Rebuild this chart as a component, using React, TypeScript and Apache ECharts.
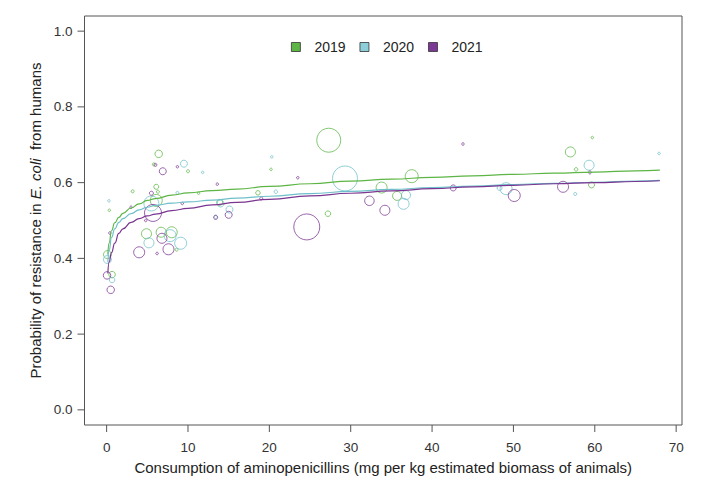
import { useEffect, useRef } from 'react'
import * as echarts from 'echarts'

// years and colours
const years = ['2019', '2020', '2021']
const lineColors = ['#5cb545', '#6fbfca', '#7a3590']
const fillColors = ['#5cb545', '#8ccfd8', '#7b3894']

const xTicks = [0, 10, 20, 30, 40, 50, 60, 70]
const yTicks = [0, 0.2, 0.4, 0.6, 0.8, 1.0]

// [consumption, probability, bubble diameter]
const points2019 = [
  [0.1, 0.41, 8], [0.67, 0.357, 6.5], [0.33, 0.527, 2.5], [3.2, 0.577, 3],
  [4.9, 0.465, 10], [5.8, 0.648, 3], [6.1, 0.589, 5], [6.3, 0.576, 3],
  [6.1, 0.553, 12], [6.4, 0.676, 7.5], [6.7, 0.469, 10], [8.0, 0.469, 11],
  [8.6, 0.423, 3], [10.0, 0.63, 3], [11.3, 0.572, 2.5], [13.9, 0.548, 6],
  [18.6, 0.573, 4.5], [20.2, 0.635, 2.5], [27.2, 0.518, 5.5], [27.3, 0.712, 24],
  [33.8, 0.587, 11], [35.7, 0.565, 9], [37.5, 0.617, 13], [57.0, 0.681, 10],
  [57.7, 0.635, 3.5], [59.6, 0.594, 6], [59.7, 0.719, 2.5],
]
const points2020 = [
  [0.1, 0.397, 8], [0.67, 0.343, 5.5], [0.28, 0.552, 2.5], [5.5, 0.545, 15],
  [5.2, 0.441, 10], [7.8, 0.46, 12], [8.7, 0.573, 3], [9.1, 0.44, 12],
  [9.5, 0.65, 7], [11.8, 0.627, 2.5], [14.0, 0.545, 7], [15.1, 0.529, 7],
  [13.4, 0.51, 3.5], [20.3, 0.668, 2.5], [20.8, 0.576, 3.5], [29.3, 0.611, 25],
  [36.8, 0.567, 9], [36.5, 0.544, 11], [48.3, 0.586, 5], [49.1, 0.584, 12],
  [57.6, 0.57, 3], [59.3, 0.646, 10], [67.9, 0.677, 2.5],
]
const points2021 = [
  [0.05, 0.355, 7.5], [0.5, 0.317, 7.5], [0.4, 0.467, 2.5], [3.0, 0.535, 2.5],
  [4.0, 0.416, 11], [4.8, 0.5, 2.5], [5.5, 0.572, 4], [5.7, 0.52, 17],
  [6.0, 0.647, 3], [6.2, 0.413, 2.5], [6.8, 0.453, 10], [6.9, 0.63, 7],
  [7.6, 0.424, 11], [8.7, 0.642, 2.5], [9.3, 0.545, 2.5], [13.4, 0.508, 4],
  [13.6, 0.596, 2.5], [15.0, 0.515, 7], [19.0, 0.558, 3], [23.5, 0.613, 2.5],
  [24.6, 0.483, 26], [32.3, 0.552, 9.5], [34.2, 0.527, 10], [42.6, 0.586, 6],
  [43.8, 0.702, 2.5], [50.1, 0.566, 12], [56.1, 0.589, 11], [59.4, 0.627, 3],
]

// fitted curves
const fitX = [0.15, 0.3, 0.6, 1, 1.5, 2, 3, 4, 5, 6, 8, 10, 13, 16, 20, 25, 30, 35, 40, 45, 50, 55, 60, 65, 68]
const fit2019 = [0.41, 0.44, 0.473, 0.494, 0.508, 0.519, 0.533, 0.544, 0.553, 0.558, 0.567, 0.573, 0.579, 0.583, 0.59, 0.597, 0.604, 0.609, 0.614, 0.618, 0.622, 0.625, 0.628, 0.631, 0.633]
const fit2020 = [0.39, 0.42, 0.455, 0.478, 0.495, 0.505, 0.518, 0.528, 0.535, 0.54, 0.546, 0.549, 0.554, 0.559, 0.564, 0.571, 0.577, 0.582, 0.587, 0.591, 0.595, 0.598, 0.601, 0.604, 0.606]
const fit2021 = [0.36, 0.39, 0.415, 0.44, 0.466, 0.478, 0.495, 0.505, 0.512, 0.517, 0.526, 0.532, 0.541, 0.548, 0.556, 0.565, 0.572, 0.578, 0.584, 0.589, 0.593, 0.597, 0.6, 0.603, 0.605]

const allPoints = [points2019, points2020, points2021]
const allFits = [fit2019, fit2020, fit2021]

// R pads the data range by 4% on each side
const xMin = -2.72
const xMax = 70.72
const yMin = -0.04
const yMax = 1.04

const font = 'Liberation Sans, Arial, sans-serif'
const axisGray = '#555'
const tickLen = 7

export default function App() {
  const chartRef = useRef<HTMLDivElement>(null)

  useEffect(() => {
    document.body.style.margin = '0'
    if (!chartRef.current) return
    const chart = echarts.init(chartRef.current, null, { renderer: 'svg' })

    const series: any[] = []
    years.forEach((year, i) => {
      series.push({
        name: year,
        type: 'scatter',
        data: allPoints[i],
        symbol: 'circle',
        symbolSize: (v: number[]) => v[2],
        itemStyle: { color: 'transparent', borderColor: lineColors[i], borderWidth: 0.9, opacity: 0.85 },
        emphasis: { disabled: true },
      })
    })
    years.forEach((year, i) => {
      series.push({
        name: year,
        type: 'line',
        data: fitX.map((x, j) => [x, allFits[i][j]]),
        showSymbol: false,
        smooth: true,
        smoothMonotone: 'x',
        lineStyle: { color: lineColors[i], width: 1.2 },
        itemStyle: { color: lineColors[i] },
        z: 3,
      })
    })

    // outward tick marks along the frame
    series.push({
      type: 'custom',
      silent: true,
      clip: false,
      z: 5,
      data: xTicks.map((v) => [v, yMin]),
      renderItem: (_p: any, api: any) => {
        const pt = api.coord([api.value(0), api.value(1)])
        return {
          type: 'line',
          shape: { x1: pt[0], y1: pt[1], x2: pt[0], y2: pt[1] + tickLen },
          style: { stroke: axisGray, lineWidth: 1 },
        }
      },
    })
    series.push({
      type: 'custom',
      silent: true,
      clip: false,
      z: 5,
      data: yTicks.map((v) => [xMin, v]),
      renderItem: (_p: any, api: any) => {
        const pt = api.coord([api.value(0), api.value(1)])
        return {
          type: 'line',
          shape: { x1: pt[0] - tickLen, y1: pt[1], x2: pt[0], y2: pt[1] },
          style: { stroke: axisGray, lineWidth: 1 },
        }
      },
    })

    chart.setOption({
      animation: false,
      textStyle: { fontFamily: font },
      grid: { left: 84.5, right: 27, top: 16, bottom: 59, show: true, borderColor: axisGray, borderWidth: 1 },
      legend: {
        left: 286,
        top: 35,
        icon: 'rect',
        itemWidth: 9,
        itemHeight: 9,
        itemGap: 14,
        textStyle: { fontSize: 14, color: '#222', fontFamily: font, padding: [0, 0, 0, 9] },
        data: years.map((y, i) => ({
          name: y,
          itemStyle: { color: fillColors[i], borderColor: '#333', borderWidth: 0.8, opacity: 1 },
        })),
      },
      xAxis: {
        type: 'value',
        min: xMin,
        max: xMax,
        axisLine: { show: false, onZero: false },
        axisTick: { show: false },
        axisLabel: { customValues: xTicks, margin: 15, fontSize: 13.5, color: '#333' },
        splitLine: { show: false },
        name: 'Consumption of aminopenicillins (mg per kg estimated biomass of animals)',
        nameLocation: 'middle',
        nameGap: 35,
        nameTextStyle: { fontSize: 15, color: '#222' },
      },
      yAxis: {
        type: 'value',
        min: yMin,
        max: yMax,
        axisLine: { show: false, onZero: false },
        axisTick: { show: false },
        axisLabel: {
          customValues: yTicks,
          margin: 12,
          fontSize: 13.5,
          color: '#333',
          formatter: (v: number) => v.toFixed(1),
        },
        splitLine: { show: false },
        name: '{n|Probability of resistance in }{i|E. coli}{n|  from humans}',
        nameLocation: 'middle',
        nameGap: 41,
        nameRotate: 90,
        nameTextStyle: {
          fontSize: 15,
          color: '#222',
          rich: {
            n: { fontSize: 15, color: '#222', fontFamily: font },
            i: { fontSize: 15, color: '#222', fontFamily: font, fontStyle: 'italic' },
          },
        },
      },
      series,
    })

    return () => {
      chart.dispose()
    }
  }, [])

  return <div ref={chartRef} style={{ width: 709, height: 484 }} />
}
